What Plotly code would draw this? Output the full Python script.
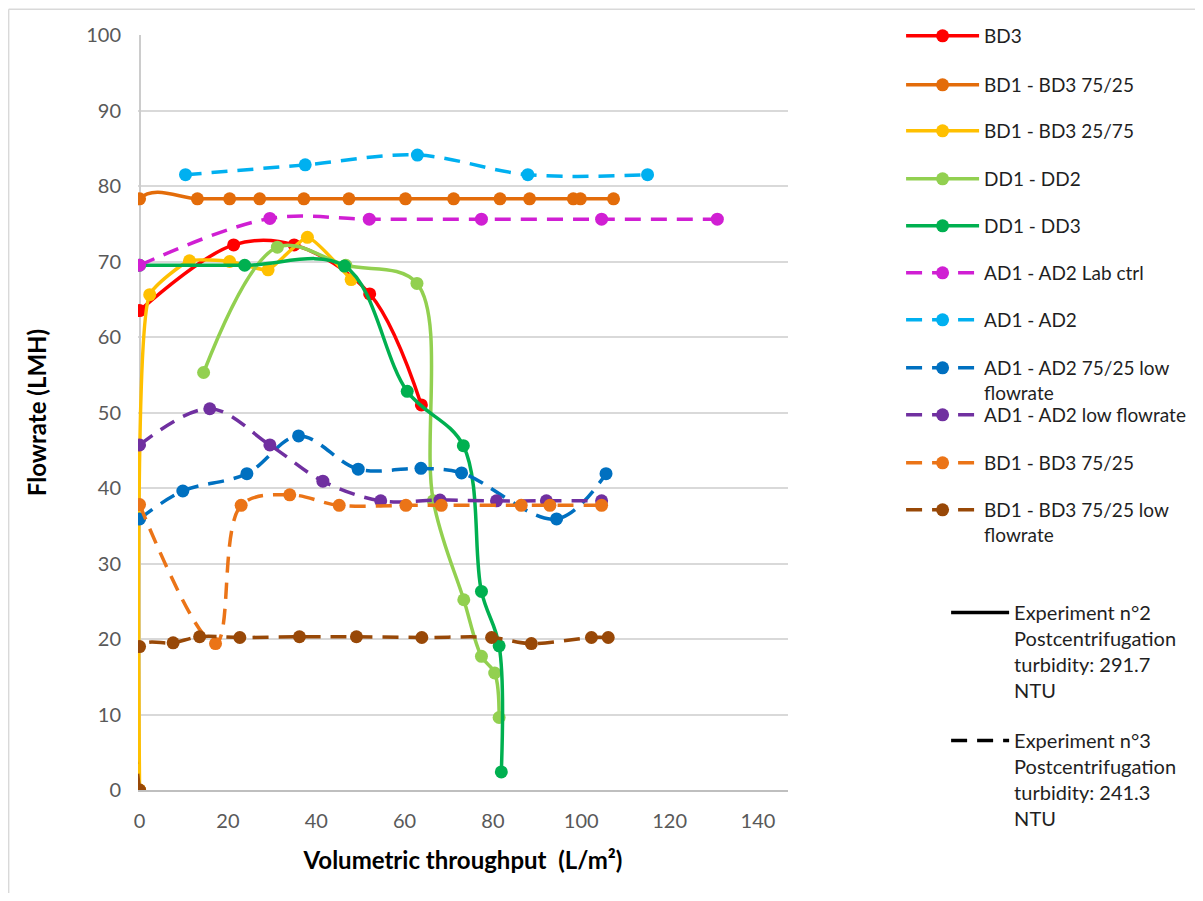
import plotly.graph_objects as go

# ---------------- data ----------------
bd3_x = [0, 21.3, 35.0, 52.1, 63.8]
bd3_y = [63.5, 72.2, 72.2, 65.7, 51.0]

bd1bd3_7525_x = [0, 0, 13.1, 20.4, 27.2, 37.2, 47.4, 60.2, 71.1, 81.6, 88.3, 98.2, 99.8, 107.3]
bd1bd3_7525_y = [0, 78.3, 78.3, 78.3, 78.3, 78.3, 78.3, 78.3, 78.3, 78.3, 78.3, 78.3, 78.3, 78.3]

bd1bd3_2575_x = [0, 2.3, 11.3, 20.4, 29.1, 38.0, 47.9]
bd1bd3_2575_y = [0, 65.6, 70.1, 70.0, 68.9, 73.2, 67.6]

dd1dd2_x = [14.5, 31.2, 46.7, 62.8, 66.5, 73.4, 77.4, 80.4, 81.4]
dd1dd2_y = [55.3, 71.9, 69.5, 67.1, 38.3, 25.2, 17.7, 15.5, 9.6]

dd1dd3_x = [0, 23.8, 46.4, 60.6, 73.3, 77.4, 81.4, 81.9]
dd1dd3_y = [69.5, 69.5, 69.4, 52.8, 45.6, 26.3, 19.1, 2.4]

ad_lab_x = [0, 29.5, 52.0, 77.4, 104.6, 130.8]
ad_lab_y = [69.5, 75.7, 75.6, 75.6, 75.6, 75.6]

ad_x = [10.4, 37.5, 62.9, 87.9, 115.0]
ad_y = [81.5, 82.8, 84.1, 81.5, 81.5]

ad_7525_low_x = [0, 9.8, 24.3, 36.0, 49.5, 63.7, 72.9, 94.4, 105.6]
ad_7525_low_y = [35.9, 39.6, 41.9, 46.9, 42.5, 42.6, 42.0, 35.9, 41.9]

ad_low_x = [0, 15.9, 29.5, 41.5, 54.6, 68.0, 80.8, 92.1, 104.6]
ad_low_y = [45.7, 50.5, 45.7, 40.9, 38.3, 38.4, 38.3, 38.3, 38.3]

bd_7525_e3_x = [0, 17.2, 23.0, 34.0, 45.2, 60.3, 68.3, 86.4, 92.9, 104.6]
bd_7525_e3_y = [37.8, 19.4, 37.7, 39.1, 37.7, 37.7, 37.7, 37.7, 37.7, 37.7]

bd_7525_low_x = [0, 0, 7.6, 13.6, 22.7, 36.2, 49.1, 63.9, 79.7, 88.7, 102.3, 106.1]
bd_7525_low_y = [0, 19.0, 19.5, 20.3, 20.2, 20.3, 20.3, 20.2, 20.2, 19.4, 20.2, 20.2]

x_ticks = [0, 20, 40, 60, 80, 100, 120, 140]
y_ticks = [0, 10, 20, 30, 40, 50, 60, 70, 80, 90, 100]

# name, x, y, colour, line style, smoothing
series = [
    ("BD3", bd3_x, bd3_y, "#FF0000", "solid", 1.0),
    ("BD1 - BD3 75/25", bd1bd3_7525_x, bd1bd3_7525_y, "#E36C0A", "solid", 1.0),
    ("BD1 - BD3 25/75", bd1bd3_2575_x, bd1bd3_2575_y, "#FFC000", "solid", 0.45),
    ("DD1 - DD2", dd1dd2_x, dd1dd2_y, "#92D050", "solid", 1.0),
    ("DD1 - DD3", dd1dd3_x, dd1dd3_y, "#00B050", "solid", 1.0),
    ("AD1 - AD2 Lab ctrl", ad_lab_x, ad_lab_y, "#D01FD3", "dash", 1.0),
    ("AD1 - AD2", ad_x, ad_y, "#00B0F0", "dash", 1.0),
    ("AD1 - AD2 75/25 low<br>flowrate", ad_7525_low_x, ad_7525_low_y, "#0070C0", "dash", 1.0),
    ("AD1 - AD2 low flowrate", ad_low_x, ad_low_y, "#7030A0", "dash", 1.0),
    ("BD1 - BD3 75/25", bd_7525_e3_x, bd_7525_e3_y, "#EB7417", "dash", 1.0),
    ("BD1 - BD3 75/25 low<br>flowrate", bd_7525_low_x, bd_7525_low_y, "#984807", "dash", 1.0),
]

experiments = [
    ("Experiment n°2<br>Postcentrifugation<br>turbidity: 291.7<br>NTU", "solid"),
    ("Experiment n°3<br>Postcentrifugation<br>turbidity: 241.3<br>NTU", "dash"),
]

# ---------------- layout geometry ----------------
OFF = 8                       # page body margin of the written html
W, H = 1203 - 2 * OFF, 901 - 2 * OFF
PX_PER_X = (758 - 140) / 140  # screenshot pixels per x unit
X_MIN = -0.35                 # tiny room left of 0 so lines on x=0 are not clipped
X0_PX, XR_PX = 140, 788
L = X0_PX + X_MIN * PX_PER_X - OFF
R = XR_PX - OFF
T, B = 35 - OFF, 790 - OFF
pw, ph = R - L, B - T

def px_x(p):                  # p: pixel in the screenshot
    return (p - OFF - L) / pw

def px_y(p):
    return (B - (p - OFF)) / ph

FONT = "Lato, 'Open Sans', sans-serif"
DASH = "16px,10px"

fig = go.Figure()

legend_sym_px = [36, 85, 131, 179, 226, 273, 320, 368, 415, 463, 510]
legend_layouts = {}

for i, (name, xs, ys, color, style, smooth) in enumerate(series):
    lg = "legend" if i == 0 else f"legend{i+1}"
    fig.add_trace(go.Scatter(
        x=xs, y=ys, name=name, mode="lines+markers",
        line=dict(color=color, width=3.5, shape="spline", smoothing=smooth,
                  dash=DASH if style == "dash" else "solid"),
        marker=dict(color=color, size=13, symbol="circle"),
        legend=lg,
    ))
    legend_layouts[lg] = dict(
        x=px_x(901), y=px_y(legend_sym_px[i] - 19), xanchor="left", yanchor="top",
        bgcolor="rgba(0,0,0,0)", font=dict(family=FONT, size=19, color="#1F1F1F"),
        valign="top", itemwidth=73,
    )

exp_sym_px = [614, 742]
for j, (name, style) in enumerate(experiments):
    lg = f"legend{len(series)+j+1}"
    fig.add_trace(go.Scatter(
        x=[None], y=[None], name=name, mode="lines",
        line=dict(color="#000000", width=3.5, dash=DASH if style == "dash" else "solid"),
        legend=lg,
    ))
    legend_layouts[lg] = dict(
        x=px_x(946), y=px_y(exp_sym_px[j] - 21), xanchor="left", yanchor="top",
        bgcolor="rgba(0,0,0,0)", font=dict(family=FONT, size=20, color="#1F1F1F"),
        valign="top", itemwidth=58,
    )

fig.update_layout(
    width=W, height=H,
    margin=dict(l=L, r=W - R, t=T, b=H - B, autoexpand=False),
    paper_bgcolor="white", plot_bgcolor="white",
    font=dict(family=FONT, color="#595959"),
    showlegend=True,
    **legend_layouts,
)

x_max = (XR_PX - X0_PX) / PX_PER_X
fig.update_xaxes(
    range=[X_MIN, x_max],
    tickvals=x_ticks, ticktext=[str(v) for v in x_ticks],
    showgrid=False,
    zeroline=True, zerolinecolor="#CCCCCC", zerolinewidth=1.5,
    showline=True, linecolor="#BFBFBF", linewidth=1.5,
    layer="below traces",
    ticks="", tickfont=dict(family=FONT, size=20, color="#595959"),
    ticklabelstandoff=12,
    title=dict(text="<b>Volumetric throughput  (L/m²)</b>",
               font=dict(family=FONT, size=24, color="#000000"), standoff=21),
    automargin=False,
)
fig.update_yaxes(
    range=[0, 100], tickvals=y_ticks, ticktext=[str(v) for v in y_ticks],
    showgrid=True, gridcolor="#D9D9D9", gridwidth=1.5, zeroline=False,
    showline=False,
    layer="below traces",
    ticks="", tickfont=dict(family=FONT, size=20, color="#595959"),
    ticklabelstandoff=int(round(18 + X_MIN * PX_PER_X)),
    title=dict(text="<b>Flowrate (LMH)</b>",
               font=dict(family=FONT, size=24, color="#000000"), standoff=32),
    automargin=False,
)

# chart outer border (Excel chart area), visible on the left and top edges only
EDGE = 9.2   # screenshot pixel of the border (just inside the figure area)
fig.add_shape(type="line", xref="paper", yref="paper",
              x0=px_x(EDGE), x1=px_x(EDGE), y0=px_y(901), y1=px_y(EDGE),
              line=dict(color="#D9D9D9", width=1.5), layer="below")
fig.add_shape(type="line", xref="paper", yref="paper",
              x0=px_x(EDGE), x1=px_x(1203), y0=px_y(EDGE), y1=px_y(EDGE),
              line=dict(color="#D9D9D9", width=1.5), layer="below")

fig.write_html("out.html")
